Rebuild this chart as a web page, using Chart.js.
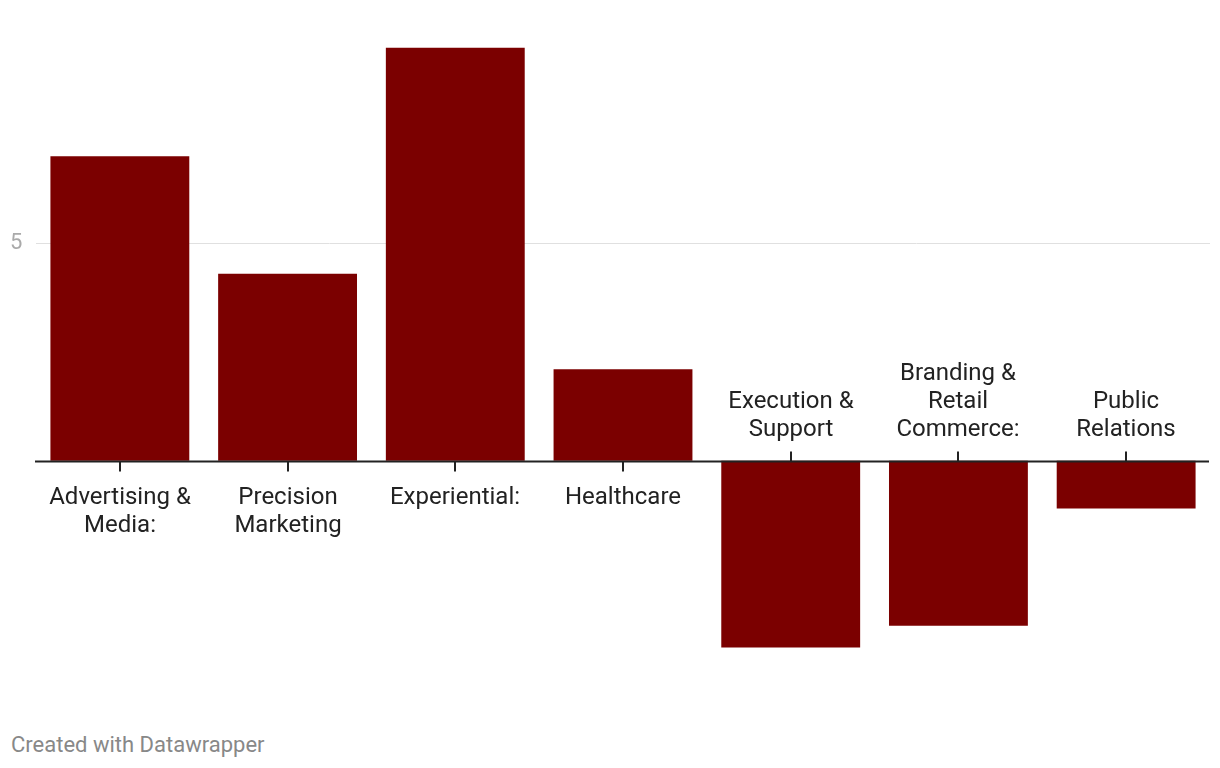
<!DOCTYPE html>
<html>
<head>
<meta charset="utf-8">
<script src="https://cdn.jsdelivr.net/npm/chart.js@4.4.1/dist/chart.umd.min.js"></script>
<style>
  html, body { margin: 0; padding: 0; background: #fff; }
  #wrap { position: relative; width: 1220px; height: 768px; }
  #chartBox { position: absolute; left: 0; top: 0; width: 1220px; height: 700px; }
  #footer { position: absolute; left: 11px; top: 734px; font-family: Roboto, sans-serif; font-size: 22px; line-height: 22px; color: #888; }
</style>
</head>
<body>
<div id="wrap">
  <div id="chartBox"><canvas id="c"></canvas></div>
  <div id="footer">Created with Datawrapper</div>
</div>
<script>
const categories = [
  ["Advertising &", "Media:"],
  ["Precision", "Marketing"],
  ["Experiential:"],
  ["Healthcare"],
  ["Execution &", "Support"],
  ["Branding &", "Retail", "Commerce:"],
  ["Public", "Relations"]
];
const values = [7.0, 4.3, 9.5, 2.1, -4.3, -3.8, -1.1];
const yTicks = [5];
const barColor = "#7b0000";

const labelFont = "24px Roboto, sans-serif";
const lineH = 28;

const zeroAxisPlugin = {
  id: 'zeroAxis',
  afterDatasetsDraw(chart) {
    const ctx = chart.ctx;
    const x = chart.scales.x, y = chart.scales.y;
    const y0 = Math.round(y.getPixelForValue(0)) + 0.5;
    ctx.save();
    ctx.strokeStyle = "#222";
    ctx.lineWidth = 2;
    ctx.beginPath();
    ctx.moveTo(chart.chartArea.left - 1, y0);
    ctx.lineTo(chart.chartArea.right - 1, y0);
    ctx.stroke();
    ctx.font = labelFont;
    ctx.fillStyle = "#222";
    ctx.textAlign = "center";
    ctx.textBaseline = "middle";
    values.forEach((v, i) => {
      const cx = Math.round(x.getPixelForValue(i));
      const lines = categories[i];
      ctx.lineWidth = 2;
      ctx.beginPath();
      if (v >= 0) {
        ctx.moveTo(cx, y0);
        ctx.lineTo(cx, y0 + 10);
        ctx.stroke();
        lines.forEach((t, k) => ctx.fillText(t, cx, y0 + 36 + k * lineH));
      } else {
        ctx.moveTo(cx, y0);
        ctx.lineTo(cx, y0 - 10);
        ctx.stroke();
        const n = lines.length;
        lines.forEach((t, k) => ctx.fillText(t, cx, y0 - 32 - (n - 1 - k) * lineH));
      }
    });
    ctx.restore();
  }
};

new Chart(document.getElementById('c'), {
  type: 'bar',
  data: {
    labels: categories,
    datasets: [{
      data: values,
      backgroundColor: barColor,
      borderWidth: 0,
      categoryPercentage: 1.0,
      barPercentage: 0.828
    }]
  },
  options: {
    responsive: true,
    maintainAspectRatio: false,
    animation: false,
    layout: { padding: { left: 10, right: 10, top: 39, bottom: 22 } },
    plugins: { legend: { display: false }, tooltip: { enabled: false } },
    scales: {
      x: {
        display: false,
        offset: true,
        grid: { display: false }
      },
      y: {
        min: -5,
        max: 9.7,
        border: { display: false },
        afterBuildTicks(scale) { scale.ticks = yTicks.map(v => ({ value: v })); },
        afterFit(scale) { scale.width = 26; },
        grid: { color: "#e0e0e0", lineWidth: 1, drawTicks: false },
        ticks: {
          crossAlign: 'far',
          padding: 0,
          color: "#aaa",
          font: { family: "Roboto, sans-serif", size: 22 },
          callback: v => String(v)
        }
      }
    }
  },
  plugins: [zeroAxisPlugin]
});
</script>
</body>
</html>
